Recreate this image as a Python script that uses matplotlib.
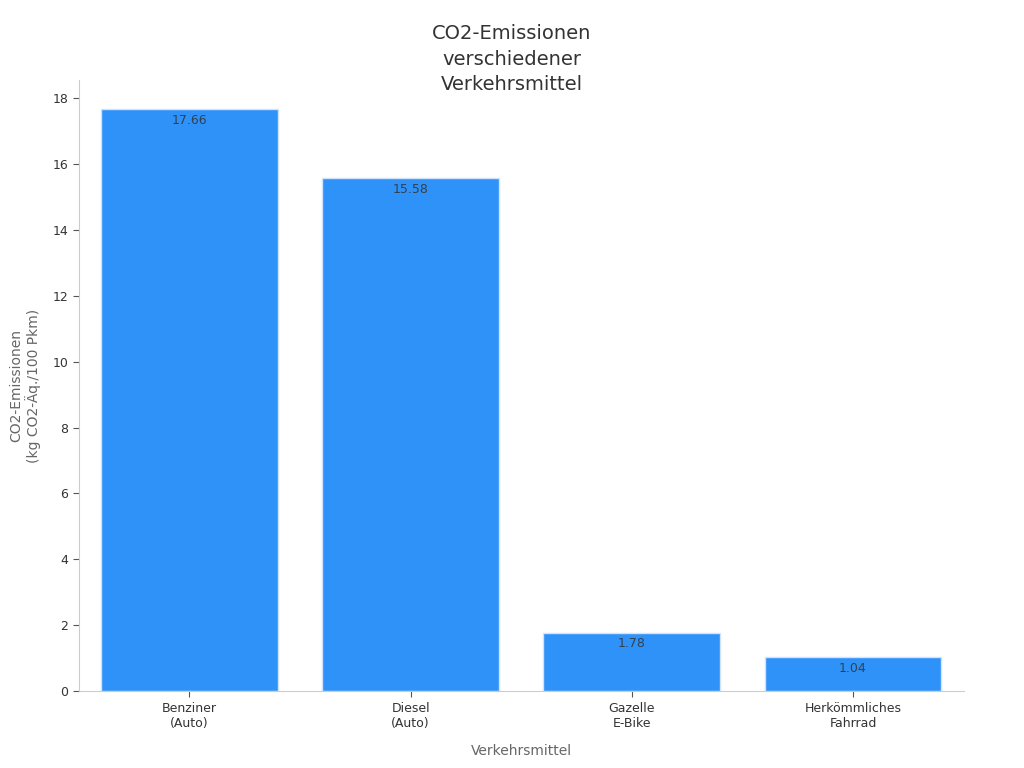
import matplotlib
matplotlib.use("Agg")
import matplotlib.pyplot as plt

categories = ["Benziner\n(Auto)", "Diesel\n(Auto)", "Gazelle\nE-Bike", "Herkömmliches\nFahrrad"]
values = [17.66, 15.58, 1.78, 1.04]
value_labels = ["17.66", "15.58", "1.78", "1.04"]

plt.rcParams['font.family'] = ['DejaVu Sans']
fig = plt.figure(figsize=(10.24, 7.68), dpi=100)
ax = fig.add_axes([0.077, 0.100, 0.864, 0.796])

x = range(len(categories))
bars = ax.bar(x, values, width=0.8, color="#2f92f8", edgecolor="#cfe3fb", linewidth=1)
for i, (v, lab) in enumerate(zip(values, value_labels)):
    ax.annotate(lab, (i, v), xytext=(0, -3.5), textcoords="offset points",
                ha="center", va="top", fontsize=9, color="#333333", alpha=0.85)

ax.set_xlim(-0.5, 3.5)
ax.set_ylim(0, 18.55)
ax.set_yticks([0, 2, 4, 6, 8, 10, 12, 14, 16, 18])
ax.set_xticks(list(x))
ax.set_xticklabels(categories, fontsize=9, color="#333333")
ax.tick_params(axis='y', labelsize=9, colors="#333333", length=4, color="#555555")
ax.tick_params(axis='x', length=4, color="#555555")
for s in ["top", "right"]:
    ax.spines[s].set_visible(False)
for s in ["left", "bottom"]:
    ax.spines[s].set_color("#cccccc")

ax.set_xlabel("Verkehrsmittel", fontsize=10, color="#666666", labelpad=10)
ax.set_ylabel("CO2-Emissionen\n(kg CO2-Äq./100 Pkm)", fontsize=10, color="#666666", labelpad=8)
fig.text(0.5, 0.923, "CO2-Emissionen\nverschiedener\nVerkehrsmittel", ha="center", va="center",
         fontsize=14, color="#333333", linespacing=1.45)

fig.savefig("out.png", dpi=100)
